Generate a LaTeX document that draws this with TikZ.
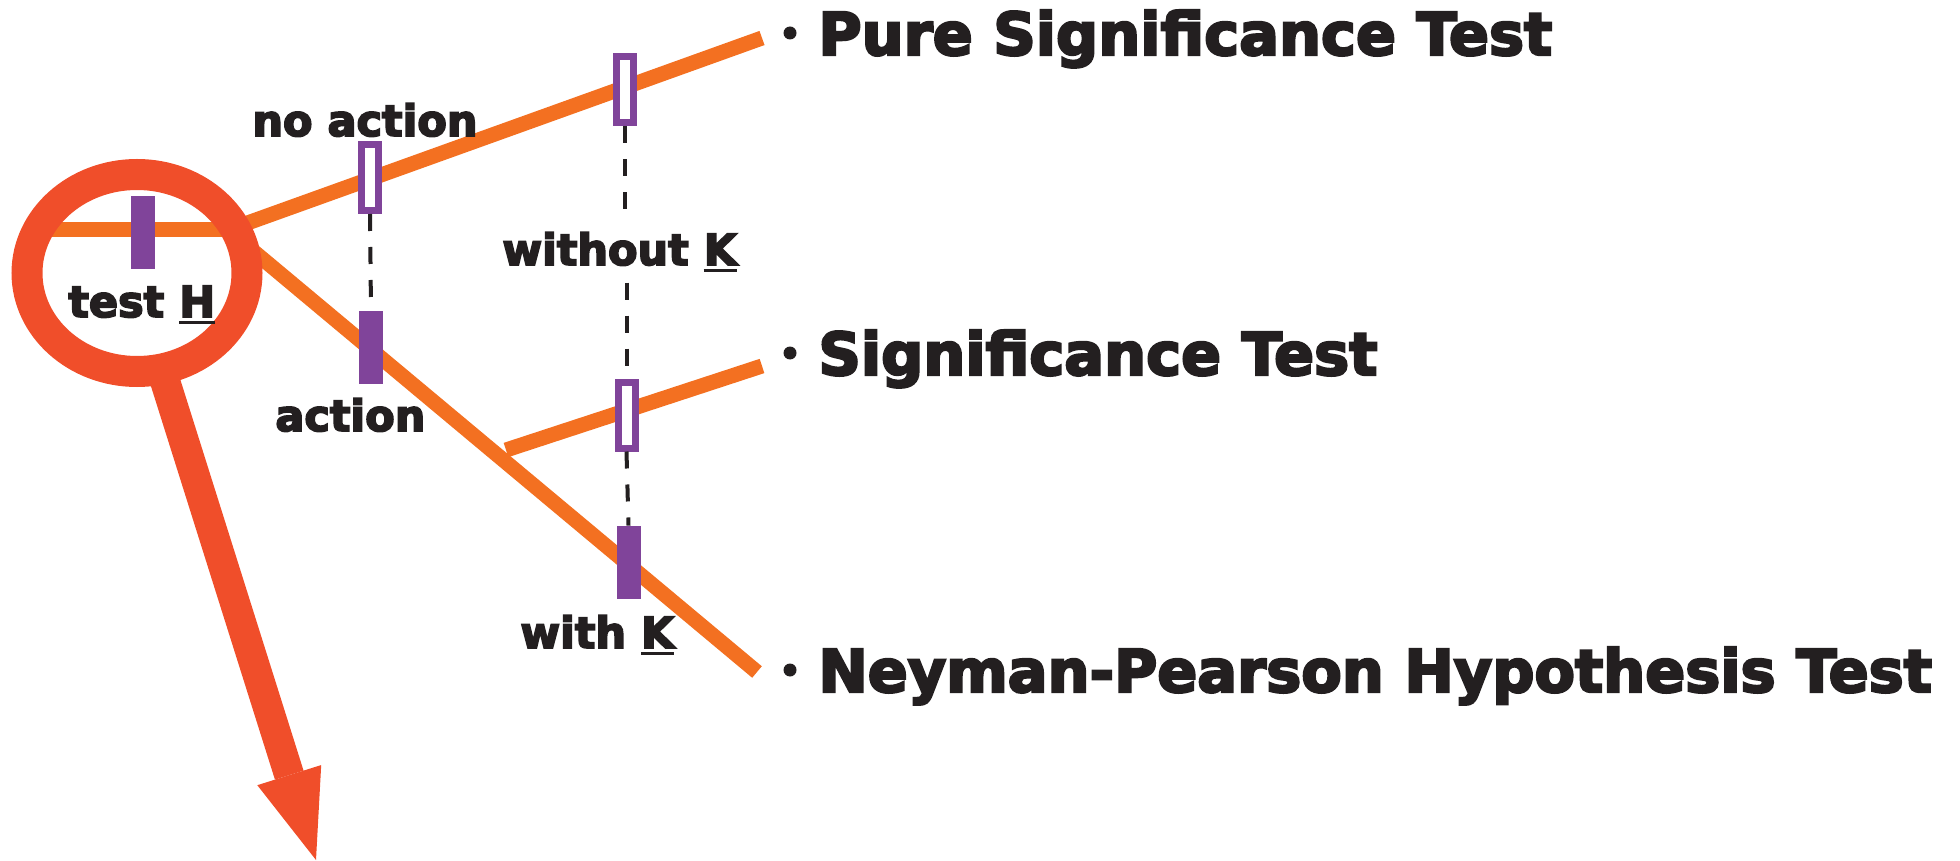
\documentclass[tikz,border=0pt]{standalone}
\usepackage{fontspec}
\setmainfont{DejaVu Sans}[BoldFeatures={FakeBold=4}]
\usetikzlibrary{arrows.meta,shapes.geometric}
\definecolor{ringred}{HTML}{F04E2A}
\definecolor{lineorange}{HTML}{F37021}
\definecolor{markpurple}{HTML}{80449A}
\definecolor{inkblack}{HTML}{231F20}
\newcommand\ulmark[1]{\setbox0\hbox{#1}\rlap{\color{inkblack}\rule[-3.6pt]{\wd0}{1.8pt}}#1}
\tikzset{
  branch/.style={draw=lineorange, line width=7.5pt},
  openmark/.style={rectangle, draw=markpurple, line width=3.5pt, fill=white, minimum width=8.5pt, minimum height=33pt, inner sep=0pt},
  fullmark/.style={rectangle, fill=markpurple, minimum width=12pt, minimum height=36.5pt, inner sep=0pt},
  linkdash/.style={draw=inkblack, line width=2pt, dash pattern=on 8.5pt off 8pt},
  smalllbl/.style={inner sep=0pt, anchor=base west, text=inkblack, font=\fontsize{21.5pt}{24pt}\selectfont\bfseries},
  biglbl/.style={inner sep=0pt, anchor=base west, text=inkblack, font=\fontsize{29.5pt}{32pt}\selectfont\bfseries},
  bulletdot/.style={circle, fill=inkblack, minimum size=6.5pt, inner sep=0pt},
  ringstyle/.style={ellipse, draw=ringred, line width=15.5pt, minimum width=110pt, minimum height=98.5pt, inner sep=0pt},
  bigarrow/.style={draw=ringred, line width=15pt, -{Triangle[length=44.5pt,width=33.5pt,line width=0pt]}}
}
\begin{document}
\begin{tikzpicture}[x=0.5pt,y=-0.5pt]
\useasboundingbox (0,0) rectangle (1960,861);
% branch points
\coordinate (hstart) at (50,230);
\coordinate (fork) at (228,230);
\coordinate (upend) at (762,38);
\coordinate (lowend) at (757,672);
\coordinate (sigstart) at (506,450);
\coordinate (sigend) at (762,366);
\draw[branch] (hstart) -- (fork);
\draw[branch] (fork) -- (upend);
\draw[branch] (fork) -- (lowend);
\draw[branch] (sigstart) -- (sigend);
% ring and arrow
\node[ringstyle] (ring) at (137,273) {};
\coordinate (astart) at (160,365);
\coordinate (atip) at (316,860);
\draw[bigarrow] (astart) -- (atip);
% marks
\node[fullmark] (mH) at (142.5,233) {};
\node[openmark] (mNo) at (370,177.5) {};
\node[fullmark] (mAct) at (371,347.5) {};
\node[openmark] (mPure) at (624.5,90) {};
\node[openmark] (mSig) at (626.5,415) {};
\node[fullmark] (mWith) at (628.5,562.5) {};
% labels
\node[smalllbl] (lTest) at (68,317) {test \ulmark{H}};
\node[smalllbl] (lNo) at (252,136) {no action};
\node[smalllbl] (lWithout) at (502,265) {without \ulmark{K}};
\node[smalllbl] (lAct) at (275,431) {action};
\node[smalllbl] (lWith) at (520,648) {with \ulmark{K}};
% dashed links
\draw[linkdash] (mNo.south) -- (mAct.north);
\draw[linkdash] (mPure.south) -- ([yshift=4pt]mPure.south |- lWithout.north);
\draw[linkdash] ([yshift=-5pt]mSig.north |- lWithout.south) -- (mSig.north);
\draw[linkdash] (mSig.south) -- (mWith.north);
% right-hand list
\node[bulletdot] (b1) at (790,33) {};
\node[biglbl] (t1) at (818,55) {Pure Significance Test};
\node[bulletdot] (b2) at (790,353) {};
\node[biglbl] (t2) at (818,375) {Significance Test};
\node[bulletdot] (b3) at (790,670) {};
\node[biglbl] (t3) at (818,692) {Neyman-Pearson Hypothesis Test};
\end{tikzpicture}
\end{document}
